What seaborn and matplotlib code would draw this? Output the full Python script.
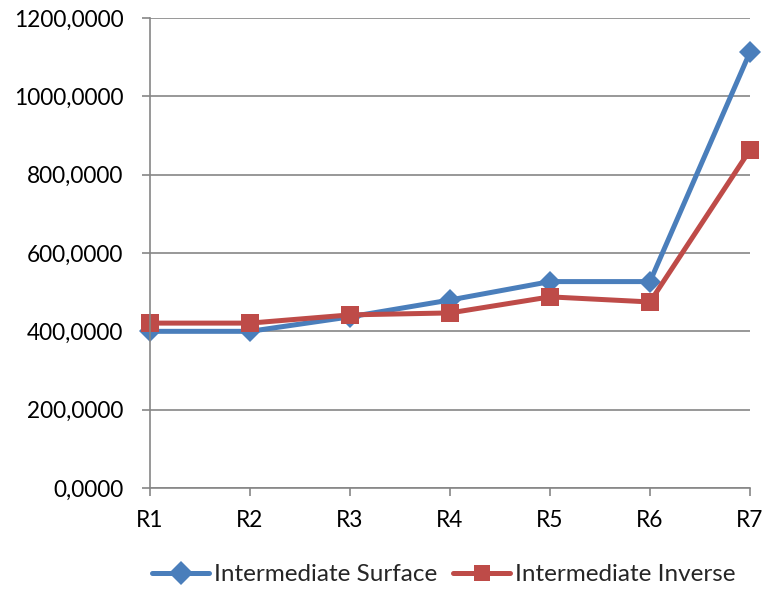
import matplotlib
matplotlib.use("Agg")
import matplotlib.pyplot as plt
import seaborn as sns
import pandas as pd
from matplotlib.ticker import FuncFormatter, MultipleLocator

categories = ["R1", "R2", "R3", "R4", "R5", "R6", "R7"]
surface = [400, 400, 437, 480, 527, 527, 1113]
inverse = [421, 421, 442, 447, 488, 475, 863]
series_names = ["Intermediate Surface", "Intermediate Inverse"]

sns.set_theme(style="white")
plt.rcParams["font.family"] = ["Lato", "DejaVu Sans"]

df = pd.DataFrame({
    "cat": categories * 2,
    "val": surface + inverse,
    "series": [series_names[0]] * len(categories) + [series_names[1]] * len(categories),
})

fig = plt.figure(figsize=(7.62, 5.90), dpi=100)
ax = fig.add_axes([150 / 762, (590 - 488) / 590, 600 / 762, 470 / 590])

sns.lineplot(data=df, x="cat", y="val", hue="series", style="series",
             markers={series_names[0]: "D", series_names[1]: "s"}, dashes=False,
             palette={series_names[0]: "#4A7EBB", series_names[1]: "#BE4B48"},
             linewidth=3.6, markersize=12, markeredgewidth=0, ax=ax, legend=True)
for line, ms in zip(ax.lines, [11, 13]):
    line.set_markersize(ms)
    line.set_clip_on(False)
    line.set_solid_joinstyle("round")

ax.set_xlim(0, 6)
ax.set_ylim(0, 1200)
ax.yaxis.set_major_locator(MultipleLocator(200))
ax.yaxis.set_major_formatter(FuncFormatter(lambda v, p: f"{v:.4f}".replace(".", ",")))
ax.grid(axis="y", color="#868686", linewidth=1.2)
ax.set_axisbelow(True)
for s in ["top", "right"]:
    ax.spines[s].set_visible(False)
for s in ["left", "bottom"]:
    ax.spines[s].set_color("#868686")
    ax.spines[s].set_linewidth(1.2)
ax.tick_params(axis="both", which="both", direction="out", length=6, width=1.2,
               color="#868686", labelsize=16.3, labelcolor="black", left=True, bottom=True)
ax.tick_params(axis="y", pad=13)
ax.tick_params(axis="x", pad=10)
ax.set_xlabel("")
ax.set_ylabel("")

leg = ax.legend(loc="center", bbox_to_anchor=(0.49, -0.185), ncol=2, frameon=False,
                fontsize=17.5, handlelength=2.35, columnspacing=0.65, handletextpad=0.2,
                borderpad=0, borderaxespad=0)
for h in leg.legend_handles:
    h.set_linewidth(3.6)

fig.savefig("out.png", dpi=100)
